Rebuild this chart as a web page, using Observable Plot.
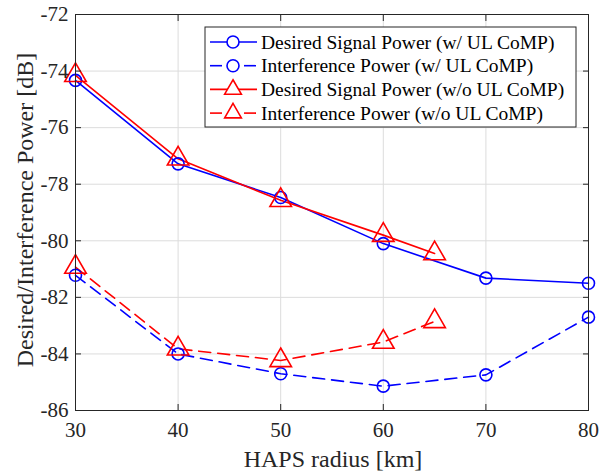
<!DOCTYPE html>
<html>
<head>
<meta charset="utf-8">
<script src="https://cdn.jsdelivr.net/npm/d3@7"></script>
<script src="https://cdn.jsdelivr.net/npm/@observablehq/plot@0.6"></script>
<style>
  html, body { margin: 0; padding: 0; background: #fff; }
  svg, svg text { font-family: "Liberation Serif", "Times New Roman", serif !important; }
</style>
</head>
<body>
<div id="chart"></div>
<script>
const radiusA = [30, 40, 50, 60, 70, 80];
const radiusB = [30, 40, 50, 60, 65];
const desiredWith = [-74.33, -77.28, -78.47, -80.10, -81.32, -81.50];
const interfWith = [-81.22, -84.00, -84.70, -85.14, -84.74, -82.70];
const desiredWithout = [-74.15, -77.10, -78.57, -79.80, -80.45];
const interfWithout = [-80.93, -83.82, -84.23, -83.58, -82.85];
const seriesNames = [
  "Desired Signal Power (w/ UL CoMP)",
  "Interference Power (w/ UL CoMP)",
  "Desired Signal Power (w/o UL CoMP)",
  "Interference Power (w/o UL CoMP)"
];
const xTicks = [30, 40, 50, 60, 70, 80];
const yTicks = [-86, -84, -82, -80, -78, -76, -74, -72];

const series = [
  {name: seriesNames[0], xs: radiusA, ys: desiredWith, color: "#0000ff", dash: null, symbol: "circle"},
  {name: seriesNames[1], xs: radiusA, ys: interfWith, color: "#0000ff", dash: "12,7", symbol: "circle"},
  {name: seriesNames[2], xs: radiusB, ys: desiredWithout, color: "#ff0000", dash: null, symbol: "triangle"},
  {name: seriesNames[3], xs: radiusB, ys: interfWithout, color: "#ff0000", dash: "12,7", symbol: "triangle"}
];
const rows = s => s.xs.map((x, i) => ({x, y: s.ys[i]}));

const axisColor = "#262626";
const marks = [
  Plot.gridX(xTicks, {stroke: "#dcdcdc", strokeOpacity: 1}),
  Plot.gridY(yTicks, {stroke: "#dcdcdc", strokeOpacity: 1}),
];
for (const s of series) {
  marks.push(Plot.line(rows(s), {x: "x", y: "y", stroke: s.color, strokeWidth: 1.6, strokeDasharray: s.dash}));
}
for (const s of series) {
  marks.push(Plot.dot(rows(s), {x: "x", y: "y", stroke: s.color, fill: "none", strokeWidth: 1.6,
    symbol: s.symbol, r: s.symbol === "circle" ? 6 : 8}));
}
marks.push(
  Plot.axisX(xTicks, {anchor: "bottom", tickSize: -6, text: null, label: null, stroke: axisColor}),
  Plot.axisX(xTicks, {anchor: "top", tickSize: -6, text: null, label: null, stroke: axisColor}),
  Plot.axisY(yTicks, {anchor: "left", tickSize: -6, text: null, label: null, stroke: axisColor}),
  Plot.axisY(yTicks, {anchor: "right", tickSize: -6, text: null, label: null, stroke: axisColor}),
  Plot.axisX(xTicks, {anchor: "bottom", tickSize: 0, tickPadding: 12, fontSize: 21, fill: axisColor, label: null}),
  Plot.axisY(yTicks, {anchor: "left", tickSize: 0, tickPadding: 7, fontSize: 21, fill: axisColor, label: null, tickFormat: d => String(d)}),
  Plot.frame({stroke: axisColor, strokeWidth: 1})
);

const plot = Plot.plot({
  width: 599,
  height: 474,
  marginLeft: 75,
  marginRight: 11,
  marginTop: 14,
  marginBottom: 64,
  style: {fontFamily: "'Liberation Serif', 'Times New Roman', serif", background: "#fff"},
  x: {domain: [30, 80], label: null},
  y: {domain: [-86, -72], label: null},
  marks
});

const svg = d3.select(plot);
// axis titles
svg.append("text")
  .attr("x", 333).attr("y", 467)
  .attr("text-anchor", "middle")
  .attr("font-size", 24).attr("fill", axisColor)
  .text("HAPS radius [km]");
svg.append("text")
  .attr("transform", "translate(33,210) rotate(-90)")
  .attr("text-anchor", "middle")
  .attr("font-size", 24).attr("fill", axisColor)
  .text("Desired/Interference Power [dB]");

// legend
const lg = svg.append("g").attr("text-anchor", "start");
lg.append("rect").attr("x", 205).attr("y", 27).attr("width", 371).attr("height", 100)
  .attr("fill", "#fff").attr("stroke", axisColor).attr("stroke-width", 1);
series.forEach((s, i) => {
  const cy = 42 + i * 23.7;
  const segs = s.dash ? [[210, 222], [244, 256]] : [[210, 257]];
  for (const [a, b] of segs) {
    lg.append("line").attr("x1", a).attr("x2", b).attr("y1", cy).attr("y2", cy)
      .attr("stroke", s.color).attr("stroke-width", 1.6);
  }
  const sym = d3.symbol(s.symbol === "circle" ? d3.symbolCircle : d3.symbolTriangle,
    s.symbol === "circle" ? Math.PI * 36 : Math.PI * 8 * 8 * 0.6);
  lg.append("path").attr("d", sym()).attr("transform", `translate(233,${cy})`)
    .attr("fill", "#fff").attr("stroke", s.color).attr("stroke-width", 1.6);
  lg.append("text").attr("x", 261).attr("y", cy).attr("dy", "0.34em")
    .attr("text-anchor", "start")
    .attr("font-size", 19.5).attr("fill", "#000").text(s.name);
});

document.getElementById("chart").appendChild(plot);
</script>
</body>
</html>
